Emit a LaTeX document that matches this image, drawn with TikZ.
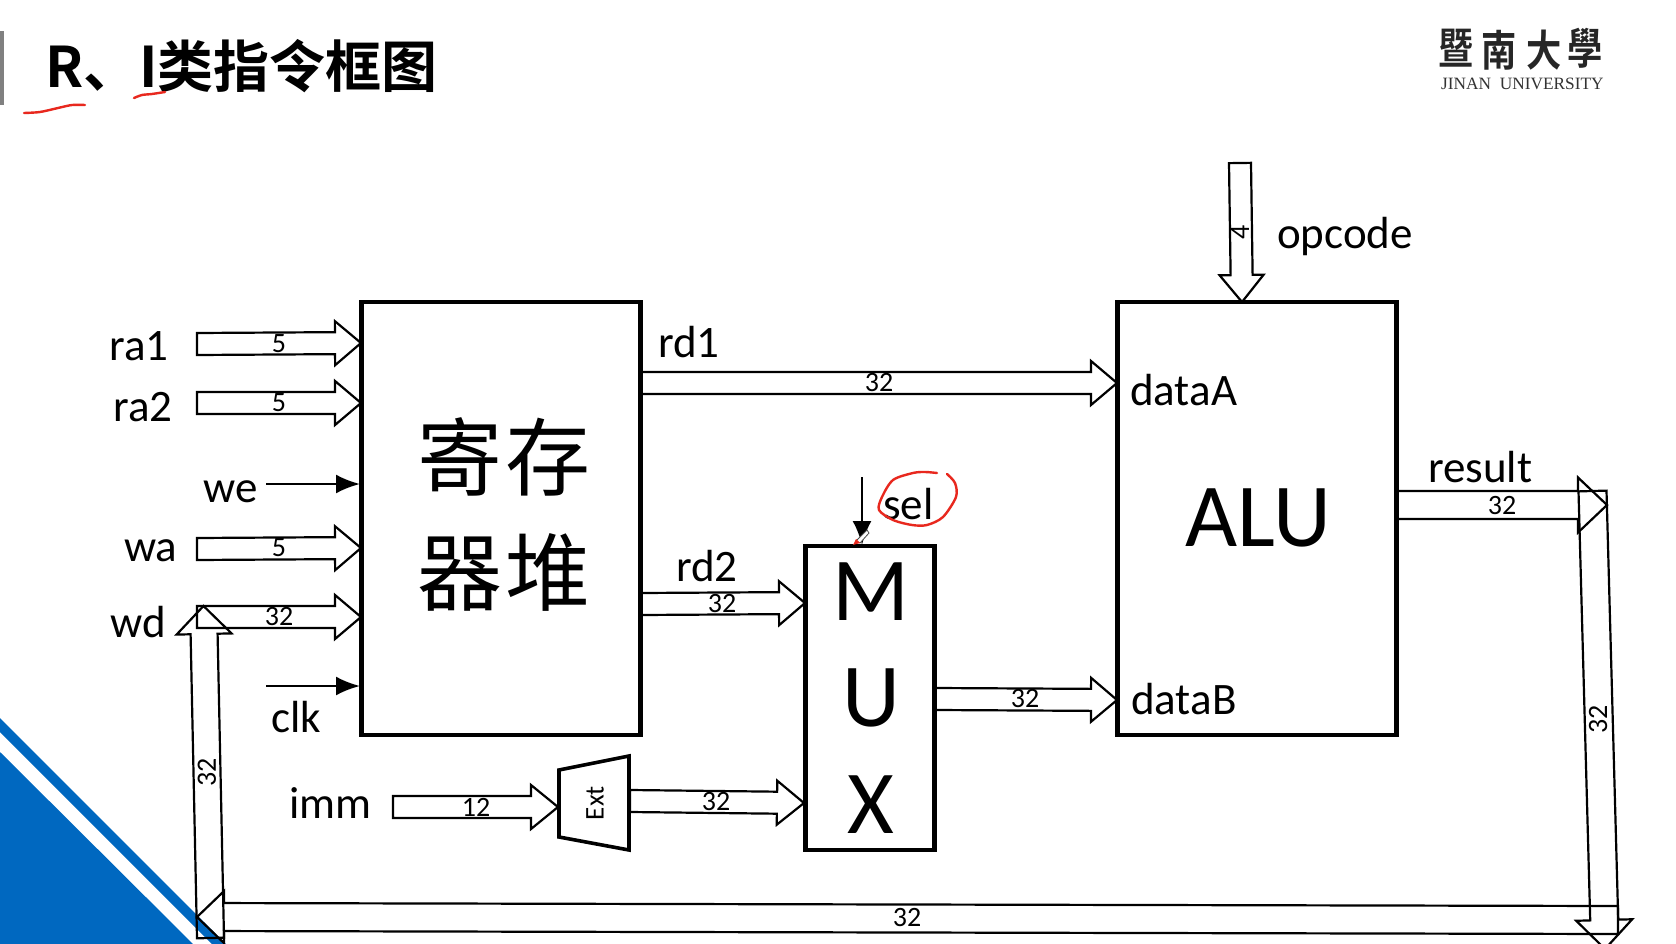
\documentclass[tikz,border=0pt]{standalone}
\usepackage{fontspec}
\setmainfont{Carlito}
\newfontfamily\cjkbold[BoldFont={Noto Sans CJK SC Bold}]{Noto Sans CJK SC}
\newfontfamily\cjkreg{Noto Sans CJK SC}
\newfontfamily\cjktc[BoldFont={Noto Sans CJK TC Bold}]{Noto Sans CJK TC}
\newfontfamily\serifen{Liberation Serif}
\usetikzlibrary{calc,arrows.meta}
\definecolor{slideblue}{HTML}{0068C0}
\definecolor{inkred}{HTML}{E8281E}
\tikzset{
  busline/.style={draw=black,line width=2.2pt,line join=miter},
  blockbox/.style={draw=black,line width=4.6pt,inner sep=0pt},
  thinarrow/.style={draw=black,line width=2.4pt,-{Latex[length=24pt,width=19pt]}},
  sig/.style={anchor=base west,inner sep=0pt,font=\fontsize{45}{50}\selectfont,text=black},
  buslabel/.style={inner sep=0pt,font=\fontsize{28}{30}\selectfont,text=black},
  bigletter/.style={inner sep=0pt,font=\fontsize{90}{100}\selectfont},
  regtext/.style={inner sep=0pt,font=\cjkreg\fontsize{85}{90}\selectfont},
  redink/.style={draw=inkred,line width=2.4pt,line cap=round,line join=round},
  logochar/.style={inner sep=0pt,font=\cjktc\bfseries\fontsize{43}{46}\selectfont,text=black!85,xscale=.82},
}
\newcommand\fatarrow[5]{%
  \coordinate (fatbase) at ($(#2)!#5pt!(#1)$);
  \draw[busline] ($(#1)!#3pt!90:(#2)$) -- ($(fatbase)!#3pt!90:(#2)$) -- ($(fatbase)!#4pt!90:(#2)$) -- (#2) -- ($(fatbase)!#4pt!-90:(#2)$) -- ($(fatbase)!#3pt!-90:(#2)$) -- ($(#1)!#3pt!-90:(#2)$) -- cycle;
}
\begin{document}
\begin{tikzpicture}[x=1pt,y=-1pt]
\useasboundingbox (0,0) rectangle (1676,944);
\clip (0,0) rectangle (1676,944);
\fill[white] (0,0) rectangle (1676,944);
% slide furniture
\fill[black!50] (0,31) rectangle (4,105);
\fill[slideblue] (0,718) -- (226,944) -- (212,944) -- (0,732) -- cycle;
\fill[slideblue] (0,752) -- (193,944) -- (0,944) -- cycle;
% title
\node[anchor=base west,inner sep=0pt,font=\cjkbold\bfseries\fontsize{56}{60}\selectfont] (title) at (45,88) {R、I类指令框图};
\draw[redink] plot[smooth] coordinates {(24,113) (40,112) (58,108) (72,105) (85,105)};
\draw[redink] plot[smooth] coordinates {(134,98) (142,95) (152,94) (165,92)};
% logo
\node[logochar] (l1) at (1456,48) {暨};
\node[logochar] (l2) at (1499,50) {南};
\node[logochar] (l3) at (1544,50) {大};
\node[logochar] (l4) at (1585,48) {學};
\node[anchor=base west,inner sep=0pt,font=\serifen\fontsize{17.3}{18}\selectfont,text=black!80] (lg) at (1441,90) {JINAN\ \ UNIVERSITY};
% blocks
\node[blockbox,minimum width=279.5pt,minimum height=433pt] (reg) at (501,518.5) {};
\node[regtext] (reg1) at (504,457) {寄\hspace{3pt}存};
\node[regtext] (reg2) at (504,572) {器\hspace{3pt}堆};
\node[blockbox,minimum width=279.5pt,minimum height=433pt] (alu) at (1257,518.5) {};
\node[bigletter] (alutext) at (1258,518) {ALU};
\node[blockbox,minimum width=129.5pt,minimum height=304pt] (mux) at (870,698) {};
\node[bigletter] (mm) at (871,592) {M};
\node[bigletter] (mu) at (871,698) {U};
\node[bigletter] (mx) at (871,805) {X};
\coordinate (e1) at (559,770); \coordinate (e2) at (629,756); \coordinate (e3) at (629,850); \coordinate (e4) at (559,837);
\draw[line width=3.6pt,line join=miter] (e1) -- (e2) -- (e3) -- (e4) -- cycle;
\node[inner sep=0pt,rotate=90,font=\fontsize{27}{30}\selectfont] (ext) at (595,803) {Ext};
% bus end points
\coordinate (ra1s) at (197,344); \coordinate (ra1e) at (361,343);
\coordinate (ra2s) at (197,403); \coordinate (ra2e) at (361,403);
\coordinate (was) at (197,549); \coordinate (wae) at (361,548);
\coordinate (wds) at (197,617); \coordinate (wde) at (361,617);
\coordinate (rd1s) at (641,383); \coordinate (rd1e) at (1117,383);
\coordinate (rd2s) at (641,604); \coordinate (rd2e) at (805,603);
\coordinate (mos) at (935,699); \coordinate (moe) at (1117,700);
\coordinate (ims) at (393,807); \coordinate (ime) at (558,807);
\coordinate (exs) at (630,801); \coordinate (exe) at (804,803);
\coordinate (ops) at (1240,163); \coordinate (ope) at (1242,302);
\coordinate (res) at (1397,505); \coordinate (ree) at (1607,505);
\coordinate (rvs) at (1592.5,491); \coordinate (rve) at (1605,949);
\coordinate (bhs) at (1618,920); \coordinate (bhe) at (197,917);
\coordinate (lvs) at (210.5,938); \coordinate (lve) at (203.5,606);
\fatarrow{ra1s}{ra1e}{11}{22}{26}
\fatarrow{ra2s}{ra2e}{11}{22}{26}
\fatarrow{was}{wae}{11}{22}{26}
\fatarrow{wds}{wde}{11}{22}{26}
\fatarrow{rd1s}{rd1e}{11}{22}{26}
\fatarrow{rd2s}{rd2e}{11}{22}{26}
\fatarrow{mos}{moe}{11}{22}{26}
\fatarrow{ims}{ime}{11}{22}{27}
\fatarrow{exs}{exe}{11}{22}{27}
\fatarrow{ops}{ope}{11}{22}{27}
\fatarrow{res}{ree}{14}{27.5}{29}
\fatarrow{rvs}{rve}{14}{28}{29}
\fatarrow{bhs}{bhe}{14}{26}{27}
\fatarrow{lvs}{lve}{13.5}{27.5}{28}
% thin control arrows
\coordinate (wes) at (266,484); \coordinate (wee) at (360,484);
\coordinate (cks) at (266,686); \coordinate (cke) at (360,686);
\coordinate (ses) at (862,477); \coordinate (see) at (862,545);
\draw[thinarrow] (wes) -- (wee);
\draw[thinarrow] (cks) -- (cke);
\draw[thinarrow] (ses) -- (see);
% signal labels
\node[sig] (nra1) at (109,360) {ra1};
\node[sig] (nra2) at (113,421) {ra2};
\node[sig] (nwe) at (203,502) {we};
\node[sig] (nwa) at (124,561) {wa};
\node[sig] (nwd) at (110,637) {wd};
\node[sig] (nclk) at (271,732) {clk};
\node[sig] (nimm) at (289,818) {imm};
\node[sig] (nrd1) at (658,357) {rd1};
\node[sig] (nrd2) at (676,581) {rd2};
\node[sig] (nda) at (1130,405) {dataA};
\node[sig] (ndb) at (1131,714) {dataB};
\node[sig] (nop) at (1277,248) {opcode};
\node[sig] (nres) at (1428,482) {result};
\node[sig] (nsel) at (883,519) {sel};
% bus width labels
\node[buslabel] (w1) at (279,344) {5};
\node[buslabel] (w2) at (279,403) {5};
\node[buslabel] (w3) at (279,548) {5};
\node[buslabel] (w4) at (279,617) {32};
\node[buslabel] (w5) at (879,383) {32};
\node[buslabel] (w6) at (722,604) {32};
\node[buslabel] (w7) at (1025,699) {32};
\node[buslabel] (w8) at (476,807) {12};
\node[buslabel] (w9) at (716,802) {32};
\node[buslabel] (w10) at (1502,506) {32};
\node[buslabel,rotate=90] (w11) at (1598,719) {32};
\node[buslabel,rotate=90] (w12) at (207,772) {32};
\node[buslabel] (w13) at (907,918) {32};
\node[buslabel,rotate=90] (w14) at (1240,232) {4};
% ink circle round sel
\draw[redink] plot[smooth] coordinates {(937,473) (925,472) (913,473) (893,480) (882,497) (879,510) (893,520) (912,525) (927,525) (943,517) (956,497) (955,483) (947,474)};
% pen cursor
\fill[white,draw=black!70,line width=.8pt] (862,535) -- (867,530) -- (869,533) -- (860,543) -- (856,541) -- cycle;
\fill[inkred] (853,545) -- (856,539) -- (860,543) -- cycle;
\end{tikzpicture}
\end{document}
